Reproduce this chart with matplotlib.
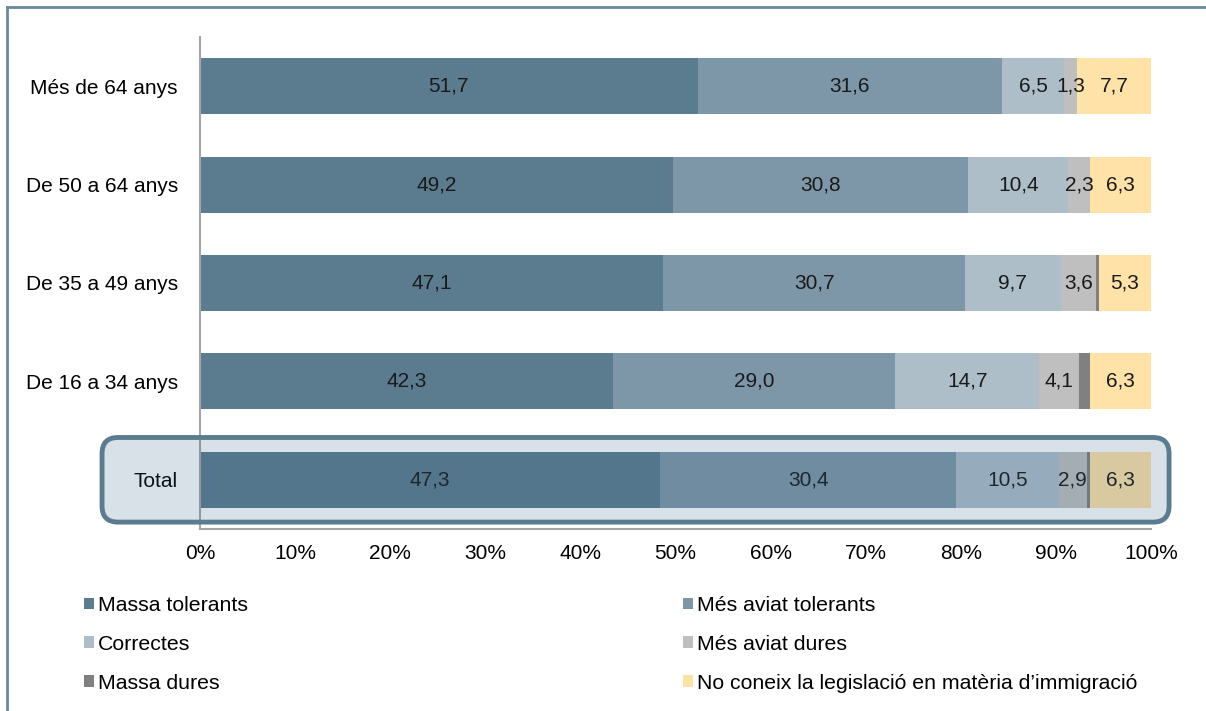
import matplotlib.pyplot as plt
import numpy as np
from matplotlib.patches import FancyBboxPatch, Patch
from matplotlib.lines import Line2D
from matplotlib.transforms import IdentityTransform

plt.rcParams['font.family'] = ['Liberation Sans', 'DejaVu Sans']

# rows from bottom to top
categories = ['Total', 'De 16 a 34 anys', 'De 35 a 49 anys', 'De 50 a 64 anys', 'Més de 64 anys']
massa_tolerants = [47.3, 42.3, 47.1, 49.2, 51.7]
mes_aviat_tolerants = [30.4, 29.0, 30.7, 30.8, 31.6]
correctes = [10.5, 14.7, 9.7, 10.4, 6.5]
mes_aviat_dures = [2.9, 4.1, 3.6, 2.3, 1.3]
massa_dures = [0.3, 1.1, 0.3, 0.0, 0.0]
no_coneix = [6.3, 6.3, 5.3, 6.3, 7.7]

series_names = ['Massa tolerants', 'Més aviat tolerants', 'Correctes',
                'Més aviat dures', 'Massa dures',
                'No coneix la legislació en matèria d\u2019immigració']
series = [massa_tolerants, mes_aviat_tolerants, correctes, mes_aviat_dures, massa_dures, no_coneix]
colors = ['#5b7c8f', '#7d97a8', '#adbec9', '#bfbfbf', '#808080', '#ffe2a8']
show_labels = [True, True, True, True, False, True]

FS = 15

data = np.array(series, dtype=float)
shares = data / data.sum(axis=0) * 100

fig = plt.figure(figsize=(12.06, 7.11), dpi=100)
ax = fig.add_axes([200 / 1206, 1 - 529 / 711, 951 / 1206, 492 / 711])

y = np.arange(len(categories))
left = np.zeros(len(categories))
for i in range(len(series)):
    ax.barh(y, shares[i], left=left, height=0.57, color=colors[i], zorder=2)
    if show_labels[i]:
        for j in range(len(categories)):
            ax.text(left[j] + shares[i][j] / 2, y[j], f'{data[i][j]:.1f}'.replace('.', ','),
                    ha='center', va='center', fontsize=FS, color='#1a1a1a', zorder=3)
    left += shares[i]

ax.set_xlim(0, 100)
ax.set_ylim(-0.5, len(categories) - 0.5)
ax.set_yticks(y)
ax.set_yticklabels(categories, fontsize=FS)
ax.set_xticks(np.arange(0, 101, 10))
ax.set_xticklabels([f'{v}%' for v in range(0, 101, 10)], fontsize=FS)
ax.tick_params(axis='y', length=0, pad=16)
ax.tick_params(axis='x', length=0, pad=11)
for s in ['top', 'right']:
    ax.spines[s].set_visible(False)
for s in ['left', 'bottom']:
    ax.spines[s].set_color('#a6a6a6')
    ax.spines[s].set_linewidth(1.5)

# highlight box round the Total row
fig.canvas.draw()
x0, y0 = ax.transData.transform((-10.3, -0.43))
x1, y1 = ax.transData.transform((101.9, 0.43))
box = FancyBboxPatch((x0, y0), x1 - x0, y1 - y0, boxstyle='round,pad=0,rounding_size=16',
                     facecolor=(0.2, 0.38, 0.53, 0.19), edgecolor='#5b7c8f', linewidth=3.5,
                     transform=IdentityTransform(), zorder=5)
fig.add_artist(box)

# outer frame (left and top lines)
fig.add_artist(Line2D([7 / 1206, 7 / 1206], [0, 1 - 7 / 711], color='#6a8a9c', linewidth=2,
                      transform=fig.transFigure))
fig.add_artist(Line2D([7 / 1206, 1], [1 - 7 / 711, 1 - 7 / 711], color='#6a8a9c', linewidth=2,
                      transform=fig.transFigure))

handles = [Patch(facecolor=c, edgecolor='none') for c in colors]
leg_kw = dict(frameon=False, fontsize=15.3, handlelength=0.45, handleheight=0.45,
              handletextpad=0.2, labelspacing=0.93, borderpad=0, borderaxespad=0)
leg1 = fig.legend([handles[0], handles[2], handles[4]], [series_names[0], series_names[2], series_names[4]],
                  loc='upper left', bbox_to_anchor=(84 / 1206, 1 - 596 / 711), **leg_kw)
leg2 = fig.legend([handles[1], handles[3], handles[5]], [series_names[1], series_names[3], series_names[5]],
                  loc='upper left', bbox_to_anchor=(683 / 1206, 1 - 596 / 711), **leg_kw)

fig.savefig('out.png', dpi=100)
